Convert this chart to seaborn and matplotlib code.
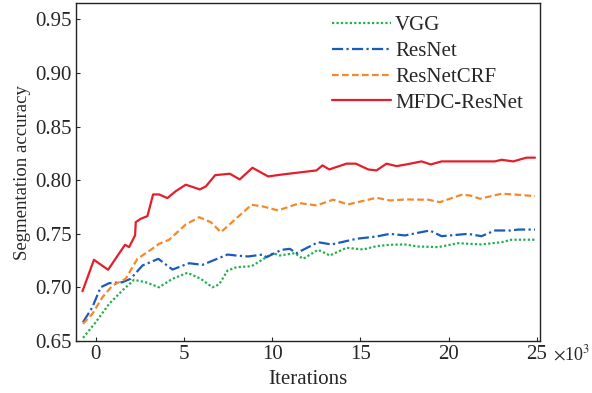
import numpy as np
import pandas as pd
import matplotlib
matplotlib.use("Agg")
import matplotlib.pyplot as plt
import seaborn as sns

# ---- data (x in units of 10^3 iterations) ----
vgg_x = [-0.72, 0.0, 0.76, 1.51, 2.17, 2.83, 3.59, 4.35, 5.20, 5.95, 6.61, 6.99, 7.47, 7.98,
         8.83, 10.05, 10.43, 11.28, 11.75, 12.6, 13.27, 14.21, 15.15, 15.91, 16.67, 17.52,
         18.27, 19.4, 20.54, 21.86, 23.0, 23.56, 24.89]
vgg_y = [0.653, 0.6676, 0.6847, 0.6972, 0.7071, 0.7049, 0.7002, 0.7081, 0.7137, 0.7081, 0.7002,
         0.7028, 0.7158, 0.7189, 0.7198, 0.732, 0.7298, 0.732, 0.7267, 0.7351, 0.7298, 0.737,
         0.7354, 0.7385, 0.7398, 0.7401, 0.7382, 0.7376, 0.7413, 0.7401, 0.7422, 0.7445, 0.7445]

resnet_x = [-0.72, -0.19, 0.28, 0.76, 1.51, 1.98, 2.65, 3.55, 4.35, 5.29, 6.05, 7.47, 7.94,
            8.63, 9.48, 9.67, 10.53, 11.0, 11.38, 12.6, 13.36, 14.78, 15.91, 16.67, 17.52,
            18.27, 18.93, 19.6, 21.1, 21.86, 22.62, 23.56, 23.94, 24.89]
resnet_y = [0.6676, 0.6816, 0.7002, 0.704, 0.7049, 0.7081, 0.7205, 0.7267, 0.7167, 0.7226,
            0.7211, 0.7307, 0.7298, 0.7289, 0.7307, 0.7282, 0.7351, 0.736, 0.732, 0.7422,
            0.7401, 0.7454, 0.7475, 0.750, 0.7485, 0.751, 0.7531, 0.7478, 0.750, 0.7478,
            0.7531, 0.7531, 0.754, 0.754]

crf_x = [-0.72, -0.19, 0.38, 0.95, 1.70, 2.36, 3.12, 3.59, 4.16, 5.10, 5.86, 6.52, 7.09, 7.94,
         8.83, 9.48, 10.33, 11.56, 12.51, 13.45, 14.30, 15.91, 16.67, 17.52, 18.84, 19.5,
         20.73, 21.2, 21.77, 23.0, 23.94, 24.89]
crf_y = [0.6661, 0.6754, 0.6909, 0.7018, 0.7081, 0.7267, 0.7351, 0.7407, 0.7445, 0.7587,
         0.7655, 0.7609, 0.7515, 0.764, 0.7771, 0.7755, 0.7718, 0.7786, 0.7765, 0.7818,
         0.7774, 0.7836, 0.7811, 0.782, 0.7818, 0.7795, 0.7864, 0.7858, 0.7827, 0.7874,
         0.7864, 0.7851]

mfdc_x = [-0.75, -0.1, 0.70, 1.66, 1.89, 2.23, 2.27, 2.55, 2.93, 3.25, 3.59, 4.06, 4.54, 5.10,
          5.90, 6.24, 6.77, 7.60, 8.16, 8.88, 9.77, 10.62, 12.51, 12.85, 13.23, 14.21, 14.74,
          15.44, 15.91, 16.48, 17.04, 17.61, 18.46, 18.99, 19.6, 22.62, 23.0, 23.66, 24.41, 24.89]
mfdc_y = [0.6965, 0.7258, 0.7165, 0.7398, 0.7376, 0.7485, 0.7609, 0.764, 0.7665, 0.7867,
          0.7867, 0.7833, 0.7898, 0.7958, 0.7914, 0.7942, 0.8047, 0.806, 0.8007, 0.8116,
          0.8035, 0.8054, 0.8091, 0.8138, 0.810, 0.8154, 0.8154, 0.810, 0.8091, 0.8154,
          0.8131, 0.8147, 0.8175, 0.8147, 0.8175, 0.8175, 0.819, 0.8175, 0.821, 0.821]

series_names = ["VGG", "ResNet", "ResNetCRF", "MFDC-ResNet"]
x_ticks = [0, 5, 10, 15, 20, 25]
y_ticks = [0.65, 0.70, 0.75, 0.80, 0.85, 0.90, 0.95]

colors = ["#22b04b", "#1a5bbf", "#f5882a", "#e41f2b"]
styles = [(0, (1, 1)), (0, (5, 1.5, 1, 1.5)), (0, (3, 1.5)), "-"]

sns.set_style("ticks")
plt.rcParams["font.family"] = ["Liberation Serif", "DejaVu Serif"]
plt.rcParams["mathtext.fontset"] = "stix"

FS = 15

fig = plt.figure(figsize=(5.92, 3.93), dpi=100)
ax = fig.add_axes([0.128, 0.132, 0.784, 0.860])

all_x = [vgg_x, resnet_x, crf_x, mfdc_x]
all_y = [vgg_y, resnet_y, crf_y, mfdc_y]
for name, xs, ys, c, ls in zip(series_names, all_x, all_y, colors, styles):
    df = pd.DataFrame({"x": xs, "y": ys})
    sns.lineplot(data=df, x="x", y="y", ax=ax, color=c, linestyle=ls,
                 linewidth=1.6, label=name, estimator=None, sort=False)

ax.set_xlim(-1.13, 25.17)
ax.set_ylim(0.65, 0.965)
ax.set_xticks(x_ticks)
ax.set_xticklabels([str(t) for t in x_ticks])
ax.set_yticks(y_ticks)
ax.set_yticklabels([f"{t:.2f}" for t in y_ticks])
ax.tick_params(direction="in", labelsize=FS, length=3, width=0.8, pad=3,
               top=False, right=False)
for s in ax.spines.values():
    s.set_linewidth(1.0)
    s.set_color("#222222")

ax.set_xlabel("Iterations", fontsize=FS, labelpad=4)
ax.set_ylabel("Segmentation accuracy", fontsize=13.5, labelpad=3)
fig.text(0.934, 0.099, r"$\times$10$^{3}$", fontsize=13, ha="left", va="center")

leg = ax.legend(loc="upper right", bbox_to_anchor=(0.99, 1.0), frameon=False,
                fontsize=FS, handlelength=2.8, handletextpad=0.2, labelspacing=0.3,
                borderaxespad=0.2)

fig.savefig("out.png", dpi=100)
